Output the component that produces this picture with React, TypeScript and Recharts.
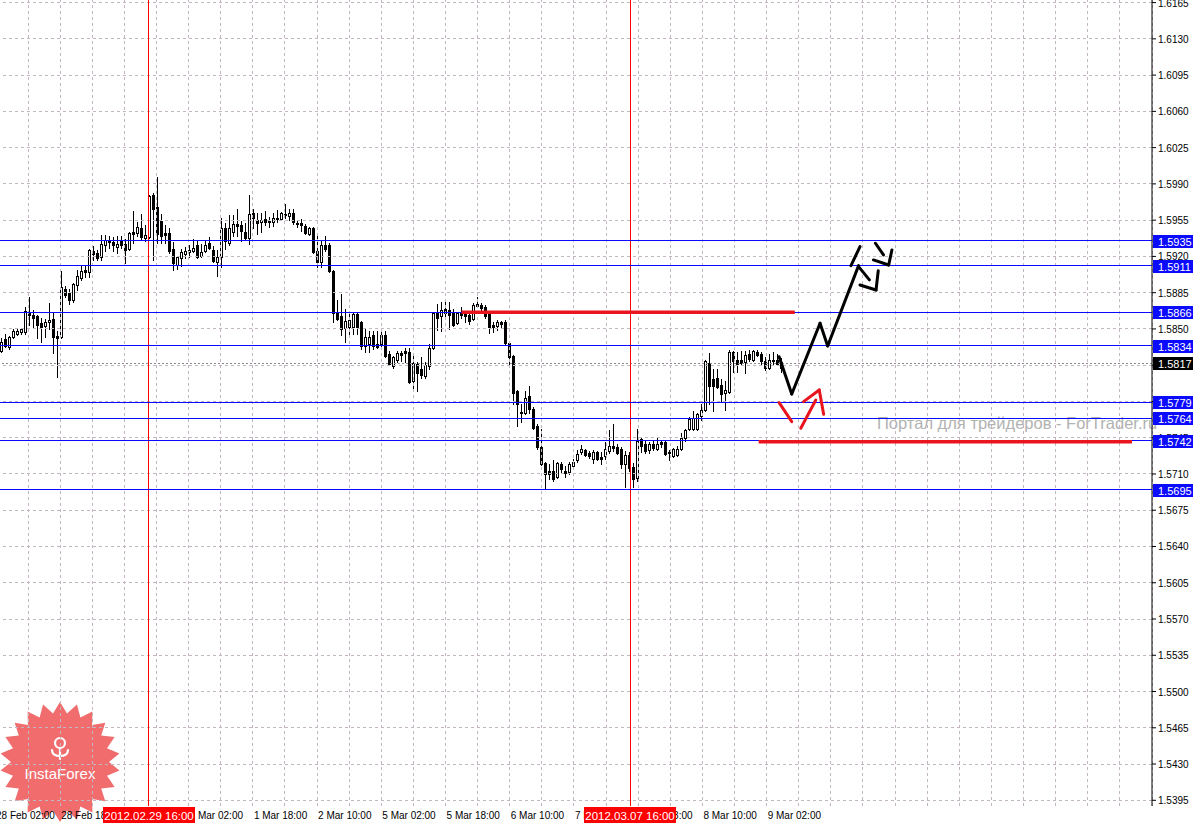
import React from "react";
import { ComposedChart, XAxis, YAxis, Bar, ReferenceLine, Customized } from "recharts";

const W = 1193;
const H = 823;
const X_AXIS_H = 17;
const SLOTS = 288; // hourly slots on screen, incl. empty space on the right
const FONT = "'Liberation Sans', Arial, sans-serif";
const TOP_Z = 2000;

const GBP_COLOR = {
  level: "#0a0aff",
  red: "#ff0000",
  thickRed: "#e8141e",
  grid: "#c2b6c2",
  bid: "#8c8c8c",
  ink: "#000000",
};

// GBPUSD H1, 28 Feb 03:00 .. 9 Mar 06:00 (2012)
const OPEN = [
  1.5829, 1.584, 1.5833, 1.5842, 1.5845, 1.5847, 1.5847, 1.5865, 1.5863, 1.5862,
  1.5856, 1.5853, 1.5857, 1.586, 1.5843, 1.5842, 1.5889, 1.5885, 1.5878, 1.5892,
  1.5899, 1.5907, 1.5905, 1.5925, 1.5923, 1.5919, 1.5931, 1.5936, 1.5934, 1.5929,
  1.5935, 1.5932, 1.5927, 1.5944, 1.5943, 1.5947, 1.5938, 1.5939, 1.5979, 1.5968,
  1.5954, 1.5943, 1.5943, 1.5927, 1.5912, 1.5918, 1.5922, 1.5924, 1.5925, 1.5931,
  1.592, 1.5925, 1.5933, 1.5926, 1.5915, 1.5919, 1.5947, 1.5933, 1.5944, 1.5951,
  1.595, 1.5944, 1.5938, 1.5962, 1.5955, 1.5953, 1.5956, 1.5954, 1.5953, 1.5957,
  1.5956, 1.5961, 1.5959, 1.5962, 1.5952, 1.5952, 1.5949, 1.5942, 1.5947, 1.5925,
  1.5915, 1.5931, 1.5931, 1.5906, 1.5866, 1.5862, 1.5851, 1.5852, 1.5852, 1.5864,
  1.5857, 1.5834, 1.5835, 1.5844, 1.5835, 1.5835, 1.5844, 1.5826, 1.5814, 1.582,
  1.5827, 1.5829, 1.5828, 1.58, 1.5816, 1.5811, 1.5805, 1.5814, 1.5832, 1.5865,
  1.5862, 1.5869, 1.5868, 1.5865, 1.5856, 1.5865, 1.5865, 1.5863, 1.586, 1.5874,
  1.5873, 1.5871, 1.5864, 1.5854, 1.5853, 1.5857, 1.5857, 1.5836, 1.5824, 1.579,
  1.577, 1.5769, 1.5785, 1.5773, 1.5756, 1.5736, 1.5721, 1.5713, 1.5713, 1.5707,
  1.572, 1.5713, 1.5712, 1.5718, 1.5723, 1.5731, 1.5733, 1.573, 1.5724, 1.5731,
  1.5726, 1.5727, 1.5732, 1.5737, 1.5736, 1.5734, 1.572, 1.5728, 1.5717, 1.5706,
  1.5744, 1.5739, 1.5733, 1.5739, 1.5734, 1.5741, 1.5741, 1.5731, 1.5727, 1.5728,
  1.5734, 1.5745, 1.5753, 1.5753, 1.5753, 1.5766, 1.5772, 1.5817, 1.5802, 1.5803,
  1.5796, 1.5788, 1.5789, 1.5828, 1.582, 1.582, 1.5818, 1.5826, 1.582, 1.5828,
  1.5826, 1.5819, 1.5812, 1.582, 1.582, 1.5818,
];
const HIGH = [
  1.5841, 1.5845, 1.5843, 1.585, 1.585, 1.5851, 1.5871, 1.5881, 1.5868, 1.5863,
  1.5861, 1.586, 1.5875, 1.5865, 1.5848, 1.5906, 1.5891, 1.5889, 1.5894, 1.5907,
  1.5911, 1.5911, 1.5927, 1.593, 1.5926, 1.5941, 1.5941, 1.594, 1.5939, 1.594,
  1.594, 1.5937, 1.5944, 1.5964, 1.5953, 1.5961, 1.595, 1.5979, 1.5981, 1.5997,
  1.5961, 1.595, 1.5947, 1.5934, 1.592, 1.5927, 1.5929, 1.5931, 1.5937, 1.5935,
  1.5932, 1.5936, 1.5939, 1.593, 1.5926, 1.5957, 1.5952, 1.596, 1.596, 1.5966,
  1.5954, 1.5952, 1.5979, 1.5966, 1.5962, 1.5962, 1.5964, 1.5958, 1.5962, 1.5965,
  1.5963, 1.5971, 1.5966, 1.5966, 1.5955, 1.5956, 1.5951, 1.5948, 1.5948, 1.5942,
  1.5935, 1.594, 1.5933, 1.5907, 1.5878, 1.5884, 1.5869, 1.5866, 1.5866, 1.5865,
  1.5858, 1.5851, 1.5848, 1.5848, 1.5848, 1.5849, 1.5848, 1.5829, 1.5824, 1.5829,
  1.5829, 1.5832, 1.5832, 1.5824, 1.5818, 1.5823, 1.5818, 1.5835, 1.5866, 1.5874,
  1.5876, 1.5878, 1.5876, 1.5869, 1.5866, 1.5871, 1.5866, 1.5865, 1.5875, 1.5881,
  1.5875, 1.5873, 1.5866, 1.5857, 1.5859, 1.5858, 1.5859, 1.5837, 1.5825, 1.5791,
  1.5778, 1.579, 1.5795, 1.5775, 1.5758, 1.5753, 1.5722, 1.572, 1.5723, 1.5722,
  1.5722, 1.5718, 1.5722, 1.5724, 1.5733, 1.5738, 1.5734, 1.5732, 1.5733, 1.5732,
  1.5731, 1.5741, 1.5752, 1.5758, 1.5739, 1.5736, 1.5732, 1.5731, 1.5721, 1.5753,
  1.5745, 1.5742, 1.5741, 1.5742, 1.5745, 1.5742, 1.5742, 1.5733, 1.5735, 1.5737,
  1.575, 1.5753, 1.5765, 1.5771, 1.5769, 1.5778, 1.582, 1.5827, 1.5811, 1.5811,
  1.5802, 1.58, 1.583, 1.5829, 1.5828, 1.5829, 1.5829, 1.583, 1.583, 1.583,
  1.5828, 1.5823, 1.5826, 1.5828, 1.5826, 1.5822,
];
const LOW = [
  1.5828, 1.5833, 1.5831, 1.5841, 1.5844, 1.5845, 1.5845, 1.5854, 1.5852, 1.5841,
  1.5837, 1.5842, 1.585, 1.5827, 1.5804, 1.5841, 1.5881, 1.5874, 1.5876, 1.5888,
  1.5897, 1.59, 1.59, 1.5917, 1.5917, 1.5917, 1.5925, 1.5928, 1.5925, 1.5923,
  1.5928, 1.5914, 1.5926, 1.5933, 1.594, 1.5937, 1.5935, 1.5938, 1.5917, 1.5933,
  1.5933, 1.5933, 1.5923, 1.5907, 1.5908, 1.5911, 1.5918, 1.5919, 1.5924, 1.5918,
  1.5919, 1.5924, 1.5927, 1.5915, 1.5901, 1.591, 1.5927, 1.5931, 1.594, 1.594,
  1.5935, 1.5936, 1.5932, 1.5947, 1.5942, 1.5944, 1.595, 1.5948, 1.5949, 1.5953,
  1.5955, 1.5957, 1.5955, 1.5951, 1.5948, 1.5945, 1.5942, 1.5941, 1.5923, 1.591,
  1.591, 1.5925, 1.5905, 1.5857, 1.5859, 1.5844, 1.5837, 1.5845, 1.5845, 1.5845,
  1.5831, 1.5828, 1.5828, 1.5831, 1.5832, 1.5833, 1.5823, 1.5815, 1.5812, 1.5818,
  1.5819, 1.5818, 1.5798, 1.579, 1.579, 1.5803, 1.5803, 1.5811, 1.5831, 1.5849,
  1.5848, 1.586, 1.585, 1.5853, 1.5855, 1.5861, 1.5857, 1.5855, 1.5859, 1.5871,
  1.5866, 1.5861, 1.5846, 1.5847, 1.5849, 1.5851, 1.5835, 1.5813, 1.5778, 1.5756,
  1.576, 1.5768, 1.5769, 1.5753, 1.5734, 1.5719, 1.5696, 1.5705, 1.5703, 1.5706,
  1.5711, 1.5707, 1.571, 1.5717, 1.5722, 1.5729, 1.5727, 1.5725, 1.5721, 1.5723,
  1.572, 1.5724, 1.573, 1.5732, 1.5729, 1.5716, 1.5697, 1.5713, 1.5697, 1.5703,
  1.5731, 1.573, 1.573, 1.5733, 1.5733, 1.5736, 1.5728, 1.5723, 1.5726, 1.5727,
  1.5733, 1.5742, 1.5752, 1.5752, 1.5752, 1.5762, 1.5771, 1.5778, 1.5771, 1.5793,
  1.578, 1.5772, 1.5788, 1.5808, 1.5808, 1.5816, 1.5807, 1.5819, 1.5819, 1.5824,
  1.5816, 1.581, 1.5811, 1.5815, 1.5815, 1.5808,
];
const CLOSE = [
  1.5837, 1.5834, 1.5842, 1.5848, 1.5848, 1.585, 1.5867, 1.5863, 1.5861, 1.5854,
  1.5852, 1.5857, 1.5859, 1.5842, 1.5841, 1.589, 1.5883, 1.5878, 1.5893, 1.5901,
  1.5906, 1.5905, 1.5926, 1.5922, 1.5918, 1.5932, 1.5936, 1.5934, 1.5931, 1.5932,
  1.5931, 1.5926, 1.5943, 1.5942, 1.5948, 1.5939, 1.5941, 1.5978, 1.5966, 1.5942,
  1.594, 1.5941, 1.5925, 1.5914, 1.5919, 1.5924, 1.5925, 1.5926, 1.5928, 1.5919,
  1.5924, 1.5931, 1.5928, 1.5916, 1.5919, 1.5947, 1.5935, 1.5947, 1.5951, 1.5949,
  1.5945, 1.5938, 1.5961, 1.5957, 1.5952, 1.5955, 1.5953, 1.5953, 1.5957, 1.5956,
  1.5962, 1.596, 1.5962, 1.5953, 1.5951, 1.595, 1.5943, 1.5947, 1.5924, 1.5915,
  1.5931, 1.5927, 1.5906, 1.5865, 1.586, 1.585, 1.5858, 1.5859, 1.5864, 1.5852,
  1.5834, 1.5842, 1.5842, 1.5834, 1.5833, 1.5844, 1.5824, 1.5816, 1.5823, 1.5827,
  1.5825, 1.5827, 1.5799, 1.5817, 1.5807, 1.5806, 1.5815, 1.5832, 1.5865, 1.5861,
  1.5868, 1.5865, 1.5863, 1.5854, 1.5865, 1.5863, 1.5862, 1.5858, 1.5873, 1.5872,
  1.587, 1.5862, 1.5852, 1.5852, 1.5857, 1.5855, 1.5836, 1.5823, 1.5788, 1.5778,
  1.5769, 1.5783, 1.5773, 1.5754, 1.5736, 1.572, 1.571, 1.571, 1.5705, 1.5721,
  1.5715, 1.5711, 1.572, 1.5722, 1.5729, 1.5734, 1.5728, 1.5727, 1.5731, 1.5724,
  1.5724, 1.5734, 1.5737, 1.5735, 1.573, 1.572, 1.5728, 1.5716, 1.5705, 1.5742,
  1.5737, 1.5732, 1.5739, 1.5735, 1.5739, 1.5739, 1.5729, 1.573, 1.5734, 1.5734,
  1.5745, 1.5752, 1.5763, 1.5764, 1.5768, 1.5772, 1.5819, 1.5795, 1.5795, 1.5794,
  1.5787, 1.5791, 1.5828, 1.5819, 1.5816, 1.5817, 1.5825, 1.5821, 1.5829, 1.5825,
  1.5819, 1.5812, 1.582, 1.5819, 1.5816, 1.5812,
];

const Y_MIN = 1.53895;
const Y_MAX = 1.61675;
const PRICE_TICKS = [
  1.5395, 1.543, 1.5465, 1.55, 1.5535, 1.557, 1.5605, 1.564, 1.5675, 1.571, 1.5745, 1.578,
  1.5815, 1.585, 1.5885, 1.592, 1.5955, 1.599, 1.6025, 1.606, 1.6095, 1.613, 1.6165,
];

// bar index of each time label (first one sits on the left edge)
const TIME_TICKS = [-0.5, 15, 31, 47, 63, 79, 95, 111, 127, 143, 159, 175, 191];
const TIME_LABELS = [
  "28 Feb 02:00", "28 Feb 18:00", "29 Feb 10:00", "1 Mar 02:00", "1 Mar 18:00", "2 Mar 10:00",
  "5 Mar 02:00", "5 Mar 18:00", "6 Mar 10:00", "7 Mar 02:00", "7 Mar 18:00", "8 Mar 10:00",
  "9 Mar 02:00",
];
const GRID_X: number[] = [];
for (let i = 7; i < SLOTS; i += 8) GRID_X.push(i);

const LEVELS = [1.5935, 1.5911, 1.5866, 1.5834, 1.5779, 1.5764, 1.5742, 1.5695];
const BID = 1.5817;
const MARKS = [37, 157];
const MARK_LABELS = ["2012.02.29 16:00", "2012.03.07 16:00"];

const RED_LEVELS = [
  { from: 115, to: 198, price: 1.5866 },
  { from: 189, to: 282, price: 1.5741 },
];

// hand drawn forecast, [bar index, price]
const BLACK_STROKES: [number, number][][] = [
  [[194.1, 1.58232], [197.25, 1.57872], [204.3, 1.58555], [206.2, 1.58336], [213.9, 1.59111]],
  [[212.0, 1.59111], [214.25, 1.59294]],
  [[213.9, 1.59101], [216.6, 1.58973]],
  [[214.25, 1.58924], [218.25, 1.58876], [218.8, 1.59062]],
  [[218.1, 1.59327], [220.1, 1.59214]],
  [[217.6, 1.59166], [221.4, 1.59117], [222.2, 1.59262]],
];
const RED_STROKES: [number, number][][] = [
  [[194.1, 1.57788], [197.25, 1.57605]],
  [[199.5, 1.57541], [203.25, 1.57814]],
  [[200.2, 1.57798], [204.1, 1.57911], [205.2, 1.57676]],
];

const rows = Array.from({ length: SLOTS }, (_, i) => ({
  i,
  range: i < OPEN.length ? [LOW[i], HIGH[i]] : null,
}));

function Candle(props: any) {
  const { x, y, width, height, index } = props;
  if (index >= OPEN.length || x == null || y == null) return null;
  const o = OPEN[index];
  const h = HIGH[index];
  const l = LOW[index];
  const c = CLOSE[index];
  const top = Math.min(y, y + height);
  const bot = Math.max(y, y + height);
  const k = (bot - top) / (h - l);
  const py = (p: number) => Math.round(top + (h - p) * k);
  const cx = Math.floor(x + width / 2);
  const yo = py(o);
  const yc = py(c);
  const bTop = Math.min(yo, yc);
  const bBot = Math.max(yo, yc);
  return (
    <g shapeRendering="crispEdges">
      <line x1={cx + 0.5} x2={cx + 0.5} y1={Math.round(top)} y2={Math.round(bot) + 1} stroke="#000" />
      <rect
        x={cx - 0.5}
        y={bTop + 0.5}
        width={2}
        height={bBot - bTop}
        fill={c >= o ? "#fff" : "#000"}
        stroke="#000"
      />
    </g>
  );
}

function PriceTag(props: any) {
  const { viewBox, text, bg } = props;
  if (!viewBox) return null;
  const x = viewBox.x + viewBox.width;
  const y = Math.round(viewBox.y);
  return (
    <g>
      <rect x={x + 1} y={y - 6} width={41} height={13} fill={bg} />
      <text x={x + 6} y={y + 4.5} fill="#fff" fontSize={11} fontFamily={FONT}>
        {text}
      </text>
    </g>
  );
}

function TimeTag(props: any) {
  const { viewBox, text } = props;
  if (!viewBox) return null;
  const x = Math.round(viewBox.x);
  const y = viewBox.y + viewBox.height;
  return (
    <g>
      <rect x={x - 46} y={y + 1} width={92} height={17} fill={GBP_COLOR.red} />
      <text x={x} y={y + 13.5} fill="#fff" fontSize={11.5} fontFamily={FONT} textAnchor="middle">
        {text}
      </text>
    </g>
  );
}

function PriceTick(props: any) {
  const { x, y, payload } = props;
  return (
    <text x={x} y={y + 4} fontSize={10} fontFamily={FONT} fill="#000">
      {Number(payload.value).toFixed(4)}
    </text>
  );
}

function TimeTick(props: any) {
  const { x, payload } = props;
  const k = TIME_TICKS.indexOf(payload.value);
  return (
    <text x={k === 0 ? x - 2 : x + 1} y={H - 4} fontSize={10} fontFamily={FONT} fill="#000">
      {TIME_LABELS[k]}
    </text>
  );
}

function Watermark() {
  return (
    <text x={877} y={429} fontSize={16.5} fontFamily={FONT} fill="#b2b2b2">
      Портал для трейдеров - ForTrader.ru
    </text>
  );
}

function Logo() {
  const cx = 60;
  const cy = 762;
  const spikes = 22;
  const pts: string[] = [];
  for (let k = 0; k < spikes * 2; k++) {
    const r = k % 2 === 0 ? 60 : 49;
    const a = (Math.PI * k) / spikes - Math.PI / 2;
    pts.push(`${(cx + r * Math.cos(a)).toFixed(1)},${(cy + r * Math.sin(a)).toFixed(1)}`);
  }
  return (
    <g>
      <polygon points={pts.join(" ")} fill="#ee4c4c" opacity={0.82} />
      <g stroke="#fff" strokeWidth={2.2} fill="none" strokeLinecap="round">
        <circle cx={cx} cy={cy - 19} r={5} />
        <line x1={cx} y1={cy - 14} x2={cx} y2={cy - 3} />
        <path d={`M${cx - 8},${cy - 12} Q${cx - 8},${cy - 6} ${cx},${cy - 6} Q${cx + 8},${cy - 6} ${cx + 8},${cy - 12}`} />
      </g>
      <text x={cx} y={cy + 17} fill="#fff" fontSize={15} fontFamily={FONT} textAnchor="middle">
        InstaForex
      </text>
    </g>
  );
}

function segmentsOf(strokes: [number, number][][]) {
  const out: { a: [number, number]; b: [number, number] }[] = [];
  strokes.forEach((s) => {
    for (let j = 1; j < s.length; j++) out.push({ a: s[j - 1], b: s[j] });
  });
  return out;
}

export default function App() {
  return (
    <div
      style={{
        position: "absolute",
        left: 0,
        top: 0,
        width: W,
        height: H,
        background: "#fff",
        fontFamily: FONT,
      }}
    >
      <ComposedChart width={W} height={H} data={rows} margin={{ top: 0, right: 0, bottom: 0, left: 0 }}>
        <XAxis xAxisId="c" dataKey="i" type="category" hide />
        <XAxis
          xAxisId="n"
          type="number"
          domain={[-0.5, SLOTS - 0.5]}
          allowDataOverflow
          ticks={TIME_TICKS}
          interval={0}
          height={X_AXIS_H}
          tickSize={4}
          tick={<TimeTick />}
          axisLine={{ stroke: GBP_COLOR.ink }}
          tickLine={{ stroke: GBP_COLOR.ink }}
        />
        <YAxis
          orientation="right"
          type="number"
          width={41}
          domain={[Y_MIN, Y_MAX]}
          allowDataOverflow
          ticks={PRICE_TICKS}
          interval={0}
          tickSize={4}
          tick={<PriceTick />}
          axisLine={{ stroke: GBP_COLOR.ink }}
          tickLine={{ stroke: GBP_COLOR.ink }}
        />

        {PRICE_TICKS.map((p) => (
          <ReferenceLine key={`gy${p}`} xAxisId="n" y={p} stroke={GBP_COLOR.grid} strokeDasharray="3 3" shapeRendering="crispEdges" />
        ))}
        {GRID_X.map((g) => (
          <ReferenceLine key={`gx${g}`} xAxisId="n" x={g} stroke={GBP_COLOR.grid} strokeDasharray="3 3" shapeRendering="crispEdges" />
        ))}

        <Bar xAxisId="c" dataKey="range" shape={<Candle />} isAnimationActive={false} />

        <ReferenceLine xAxisId="n" y={BID} stroke={GBP_COLOR.bid} strokeDasharray="2 2" shapeRendering="crispEdges" />

        {MARKS.map((m) => (
          <ReferenceLine key={`m${m}`} xAxisId="n" x={m} stroke={GBP_COLOR.red} shapeRendering="crispEdges" />
        ))}

        {LEVELS.map((p) => (
          <ReferenceLine key={`lv${p}`} xAxisId="n" y={p} stroke={GBP_COLOR.level} shapeRendering="crispEdges" />
        ))}

        {RED_LEVELS.map((r) => (
          <ReferenceLine
            key={`rl${r.price}`}
            xAxisId="n"
            segment={[{ x: r.from, y: r.price }, { x: r.to, y: r.price }]}
            stroke={GBP_COLOR.thickRed}
            strokeWidth={3.5}
            ifOverflow="visible"
          />
        ))}

        {segmentsOf(BLACK_STROKES).map((s, k) => (
          <ReferenceLine
            key={`bs${k}`}
            xAxisId="n"
            segment={[{ x: s.a[0], y: s.a[1] }, { x: s.b[0], y: s.b[1] }]}
            stroke="#000"
            strokeWidth={3}
            strokeLinecap="round"
            ifOverflow="visible"
          />
        ))}
        {segmentsOf(RED_STROKES).map((s, k) => (
          <ReferenceLine
            key={`rs${k}`}
            xAxisId="n"
            segment={[{ x: s.a[0], y: s.a[1] }, { x: s.b[0], y: s.b[1] }]}
            stroke={GBP_COLOR.thickRed}
            strokeWidth={3}
            strokeLinecap="round"
            ifOverflow="visible"
          />
        ))}

        <Customized component={<Watermark />} />
        <Customized component={<Logo />} />

        {MARKS.map((m, k) => (
          <ReferenceLine
            key={`mt${m}`}
            xAxisId="n"
            x={m}
            stroke="none"
            zIndex={TOP_Z}
            label={<TimeTag text={MARK_LABELS[k]} />}
          />
        ))}
        {LEVELS.map((p) => (
          <ReferenceLine
            key={`tag${p}`}
            xAxisId="n"
            y={p}
            stroke="none"
            zIndex={TOP_Z}
            label={<PriceTag text={p.toFixed(4)} bg={GBP_COLOR.level} />}
          />
        ))}
        <ReferenceLine
          xAxisId="n"
          y={BID}
          stroke="none"
          zIndex={TOP_Z}
          label={<PriceTag text={BID.toFixed(4)} bg="#000" />}
        />
      </ComposedChart>
    </div>
  );
}
